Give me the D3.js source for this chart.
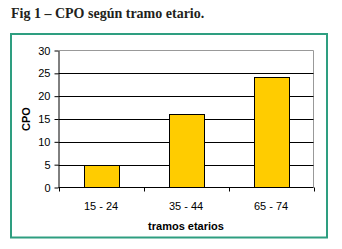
<!DOCTYPE html>
<html>
<head>
<meta charset="utf-8">
<script src="https://cdn.jsdelivr.net/npm/d3@7"></script>
<style>
  body { margin: 0; background: #fff; }
</style>
</head>
<body>
<script>
// data
var categories = ['15 - 24', '35 - 44', '65 - 74'];
var cpo = [5, 16, 24.3];
var yTicks = [0, 5, 10, 15, 20, 25, 30];

var W = 342, H = 249;
var left = 58.5, right = 313.5, top_ = 50.5, bottom = 187.5;

var svg = d3.select('body').append('svg')
  .attr('width', W).attr('height', H);

// title
svg.append('text').text('Fig 1 – CPO según tramo etario.')
  .attr('x', 11).attr('y', 18)
  .attr('font-family', 'Liberation Serif, serif').attr('font-weight', 'bold')
  .attr('font-size', '14px').attr('fill', '#231f20');

// green frame
svg.append('rect')
  .attr('x', 11).attr('y', 34).attr('width', 316).attr('height', 203.5)
  .attr('fill', 'none').attr('stroke', '#2e9e80').attr('stroke-width', 2);

var x = d3.scaleBand().domain(categories).range([left, right]).paddingInner(0.59).paddingOuter(0.295);
var y = d3.scaleLinear().domain([0, 30]).range([bottom, top_]);

// plot border (top + right gray)
svg.append('path')
  .attr('d', 'M' + left + ',' + top_ + 'H' + right + 'V' + bottom)
  .attr('fill', 'none').attr('stroke', '#999').attr('stroke-width', 1);

// gridlines
svg.append('g').selectAll('line')
  .data(yTicks.filter(function(d){ return d > 0 && d < 30; }))
  .enter().append('line')
  .attr('x1', left).attr('x2', right)
  .attr('y1', function(d){ return Math.round(y(d)) + 0.5; })
  .attr('y2', function(d){ return Math.round(y(d)) + 0.5; })
  .attr('stroke', '#000').attr('stroke-width', 1);

// bars
svg.append('g').selectAll('rect')
  .data(cpo)
  .enter().append('rect')
  .attr('x', function(d, i){ return Math.round(x(categories[i])) + 0.5; })
  .attr('width', Math.round(x.bandwidth()))
  .attr('y', function(d){ return Math.round(y(d)) + 0.5; })
  .attr('height', function(d){ return bottom - Math.round(y(d)) - 0.5; })
  .attr('fill', '#ffcc00').attr('stroke', '#000').attr('stroke-width', 1);

// y axis
var yAxis = d3.axisLeft(y).tickValues(yTicks).tickSize(4).tickSizeOuter(0);
var gy = svg.append('g').attr('transform', 'translate(' + left + ',0)').call(yAxis);
gy.select('.domain').attr('stroke', '#000');
gy.selectAll('.tick line').attr('stroke', '#000');
gy.selectAll('.tick text').attr('x', -8)
  .attr('font-family', 'Liberation Sans, Arial, sans-serif').attr('font-size', '11px').attr('fill', '#000');

// x axis: ticks at category boundaries
var xEdge = d3.scaleLinear().domain([0, categories.length]).range([left, right]);
var gx = svg.append('g').attr('transform', 'translate(0,' + bottom + ')');
gx.append('line').attr('x1', left).attr('x2', right).attr('stroke', '#000');
gx.selectAll('.tk').data(d3.range(categories.length + 1)).enter().append('line')
  .attr('x1', function(d){ return Math.round(xEdge(d)) + 0.5; })
  .attr('x2', function(d){ return Math.round(xEdge(d)) + 0.5; })
  .attr('y1', 0).attr('y2', 4).attr('stroke', '#000');
gx.selectAll('text').data(categories).enter().append('text')
  .text(function(d){ return d; })
  .attr('x', function(d){ return x(d) + x.bandwidth() / 2; })
  .attr('y', 22).attr('text-anchor', 'middle')
  .attr('font-family', 'Liberation Sans, Arial, sans-serif').attr('font-size', '11px').attr('fill', '#000');

// axis titles
svg.append('text').text('tramos etarios')
  .attr('x', (left + right) / 2).attr('y', 229.5).attr('text-anchor', 'middle')
  .attr('font-family', 'Liberation Sans, Arial, sans-serif').attr('font-weight', 'bold')
  .attr('font-size', '11px').attr('fill', '#000');

svg.append('text').text('CPO')
  .attr('transform', 'translate(30,' + ((top_ + bottom) / 2) + ') rotate(-90)')
  .attr('text-anchor', 'middle')
  .attr('font-family', 'Liberation Sans, Arial, sans-serif').attr('font-weight', 'bold')
  .attr('font-size', '11px').attr('fill', '#000');
</script>
</body>
</html>
